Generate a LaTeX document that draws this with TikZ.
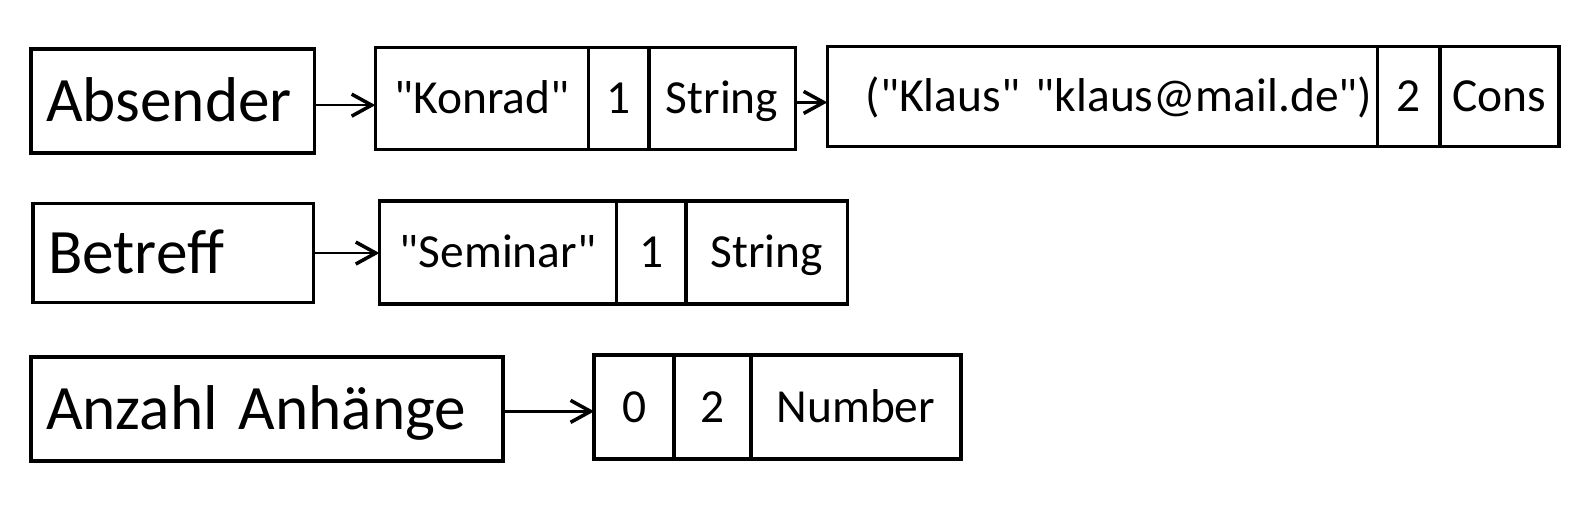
\documentclass[tikz,border=0pt]{standalone}
\usepackage{fontspec}
\setmainfont{Carlito}[Ligatures=TeXOff]
\usetikzlibrary{positioning, arrows.meta}

\begin{document}
\begin{tikzpicture}[
    field/.style={
        rectangle,
        draw,
        line width=1pt,
        font=\fontsize{18}{21}\selectfont,
        inner xsep=0.15cm,
        text width=#1,
        text height=11.6pt,
        text depth=0pt,
        align=left,
        minimum height=1.04cm
    },
    cell/.style={
        rectangle,
        draw,
        line width=1pt,
        outer sep=0pt,
        font=\fontsize{13.5}{16}\selectfont,
        text height=8.7pt,
        text depth=0pt,
        inner xsep=2pt,
        minimum width=#1
    },
    arrow/.style={-{Straight Barb[length=2mm,width=2.2mm,line width=1pt]}, line width=0.75pt}
]
\useasboundingbox (0,0) rectangle (15.82,-5.17);

% Absender
\node[field=2.535cm, anchor=north west] (absender) at (0.293,-0.474) {Absender};
\node[cell=2.13cm, minimum height=1.02cm, anchor=north west] (konrad) at (3.753,-0.474) {"Konrad"};
\node[cell=0.605cm, minimum height=1.02cm, right=0pt of konrad] (konradn) {1};
\node[cell=1.465cm, minimum height=1.02cm, right=0pt of konradn] (konradt) {String};
\node[cell=5.5cm, minimum height=1.0cm, inner xsep=0.05cm, text width=5.4cm, align=right, anchor=north west] (klaus) at (8.273,-0.464) {("Klaus" "klaus@mail.de")};
\node[cell=0.625cm, minimum height=1.0cm, right=0pt of klaus] (klausn) {2};
\node[cell=1.19cm, minimum height=1.0cm, right=0pt of klausn] (klaust) {Cons};

% Betreff
\node[field=2.505cm, minimum height=0.99cm, anchor=north west] (betreff) at (0.313,-2.018) {Betreff};
\node[cell=2.37cm, minimum height=1.03cm, anchor=north west] (seminar) at (3.794,-2.008) {"Seminar"};
\node[cell=0.696cm, minimum height=1.03cm, right=0pt of seminar] (seminarn) {1};
\node[cell=1.615cm, minimum height=1.03cm, right=0pt of seminarn] (seminart) {String};

% Anzahl Anhaenge
\node[field=4.42cm, anchor=north west] (anzahl) at (0.293,-3.551) {Anzahl Anhänge};
\node[cell=0.8cm, minimum height=1.04cm, anchor=north west] (zero) at (5.942,-3.551) {0};
\node[cell=0.766cm, minimum height=1.04cm, right=0pt of zero] (zeron) {2};
\node[cell=2.1cm, minimum height=1.04cm, right=0pt of zeron] (zerot) {Number};

\draw[arrow] ([yshift=-0.04cm]absender.east) -- ([yshift=-0.04cm]absender.east -| konrad.west);
\draw[arrow] ([yshift=-0.04cm]konradt.east) -- ([yshift=-0.04cm]konradt.east -| klaus.west);
\draw[arrow] (betreff.east) -- (betreff.east -| seminar.west);
\draw[arrow] ([yshift=-0.025cm]anzahl.east) -- ([yshift=-0.025cm]anzahl.east -| zero.west);

\end{tikzpicture}
\end{document}
